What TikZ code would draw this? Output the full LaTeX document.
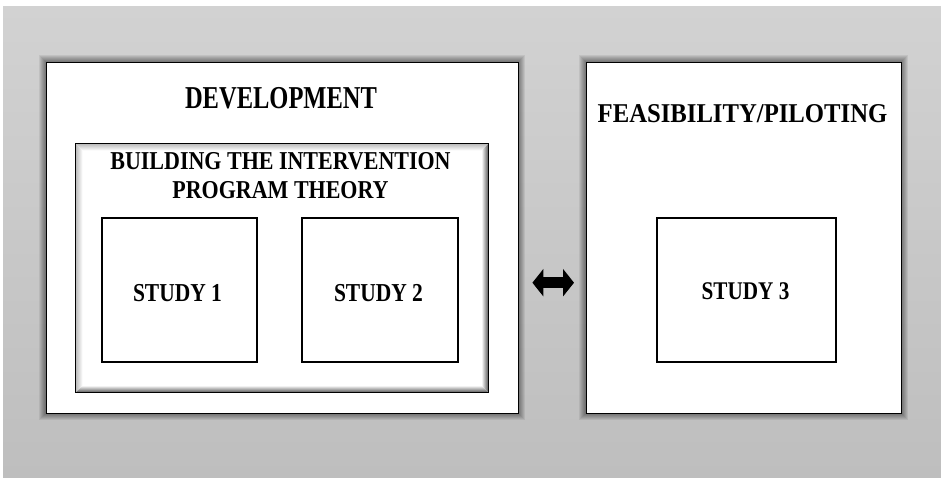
\documentclass[tikz,border=0pt]{standalone}
\usepackage{graphicx}
\usepackage{fontspec}
\setmainfont{Liberation Serif}
\usetikzlibrary{arrows.meta}
\definecolor{bgtop}{RGB}{210,210,210}
\definecolor{bgbot}{RGB}{190,190,190}
\definecolor{bevdark}{RGB}{85,85,85}
\definecolor{bevlight}{RGB}{185,185,185}
\begin{document}
\begin{tikzpicture}[x=1pt,y=-1pt,
  box/.style={draw=black,line width=1.4pt,fill=white,inner sep=0pt,anchor=north west},
  outerbox/.style={box},
  studybox/.style={box,line width=1.8pt},
  lbl/.style={anchor=base,inner sep=0pt,font=\bfseries},
  glow/.style={fill=black,fill opacity=0.07},
  bigarrow/.style={line width=11pt,{Triangle[width=27pt,length=11pt]}-{Triangle[width=27pt,length=11pt]}}]
\useasboundingbox (0,0) rectangle (941,477);
\fill[white] (0,0) rectangle (941,477);
\fill[top color=bgtop,bottom color=bgbot] (3,6) rectangle (941,477);
% soft shadows around the outer boxes
\foreach \d in {1,2,...,7}{
  \fill[glow] (46-\d,62-\d) rectangle (518+\d,413+\d);
  \fill[glow] (586-\d,62-\d) rectangle (901+\d,413+\d);
}
% outer boxes
\node[outerbox,minimum width=472pt,minimum height=351pt] (dev) at (46,62) {};
\node[outerbox,minimum width=315pt,minimum height=351pt] (feas) at (586,62) {};
% bevelled inner box
\node[box,line width=0.9pt,minimum width=413pt,minimum height=249pt] (bld) at (75,143) {};
\shade[top color=white,bottom color=bevdark] ([shift={(0.5,-0.5)}]bld.south west) -- ([shift={(-0.5,-0.5)}]bld.south east) -- ([shift={(-7.5,-7.5)}]bld.south east) -- ([shift={(7.5,-7.5)}]bld.south west) -- cycle;
\shade[left color=white,right color=bevdark] ([shift={(-0.5,-0.5)}]bld.south east) -- ([shift={(-0.5,0.5)}]bld.north east) -- ([shift={(-7.5,7.5)}]bld.north east) -- ([shift={(-7.5,-7.5)}]bld.south east) -- cycle;
\shade[top color=bevlight,bottom color=white] ([shift={(0.5,0.5)}]bld.north west) -- ([shift={(-0.5,0.5)}]bld.north east) -- ([shift={(-7.5,7.5)}]bld.north east) -- ([shift={(7.5,7.5)}]bld.north west) -- cycle;
\shade[left color=bevlight,right color=white] ([shift={(0.5,0.5)}]bld.north west) -- ([shift={(0.5,-0.5)}]bld.south west) -- ([shift={(7.5,-7.5)}]bld.south west) -- ([shift={(7.5,7.5)}]bld.north west) -- cycle;
\draw[black,line width=0.9pt] (bld.north west) rectangle (bld.south east);
% study boxes
\node[studybox,minimum width=155pt,minimum height=144pt] (s1) at (101,217) {};
\node[studybox,minimum width=156pt,minimum height=144pt] (s2) at (301,217) {};
\node[studybox,minimum width=179pt,minimum height=144pt] (s3) at (656,217) {};
% labels
\node[lbl] (devt) at (281,108) {\fontsize{24.5}{29}\selectfont\scalebox{1}[1.3]{DEVELOPMENT}};
\node[lbl] (feast) at (742.5,122) {\fontsize{24.7}{29}\selectfont\scalebox{1}[1.1]{FEASIBILITY/PILOTING}};
\node[lbl] (bldt1) at (280.5,169) {\fontsize{22}{26}\selectfont\scalebox{1}[1.17]{BUILDING THE INTERVENTION}};
\node[lbl] (bldt2) at (280.5,198) {\fontsize{22}{26}\selectfont\scalebox{1}[1.17]{PROGRAM THEORY}};
\node[lbl] (s1t) at (177.5,301) {\fontsize{21.5}{26}\selectfont\scalebox{1}[1.2]{STUDY 1}};
\node[lbl] (s2t) at (378.5,301) {\fontsize{21.5}{26}\selectfont\scalebox{1}[1.2]{STUDY 2}};
\node[lbl] (s3t) at (745.5,299) {\fontsize{21.2}{26}\selectfont\scalebox{1}[1.2]{STUDY 3}};
% double arrow
\draw[bigarrow,shorten <=13pt,shorten >=12pt] ([yshift=-44.5pt]dev.east) -- ([yshift=-44.5pt]feas.west);
\end{tikzpicture}
\end{document}
